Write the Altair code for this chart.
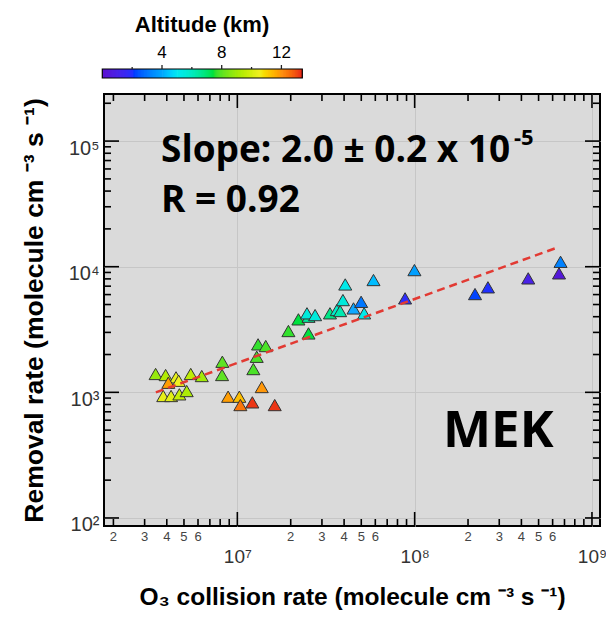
import altair as alt
import numpy as np
import pandas as pd

# ---------------- data ----------------
o3_rate = [3.46e6, 3.94e6, 4.51e6, 4.08e6, 4.67e6, 5.46e6, 6.30e6, 3.82e6, 4.23e6, 4.71e6,
           5.18e6, 8.23e6, 8.20e6, 8.87e6, 1.026e7, 1.04e7, 1.215e7, 1.373e7, 1.625e7, 1.231e7,
           1.286e7, 1.309e7, 1.446e7, 1.941e7, 2.21e7, 2.52e7, 2.52e7, 2.47e7, 2.745e7, 3.33e7,
           3.64e7, 3.80e7, 3.94e7, 4.06e7, 4.52e7, 4.99e7, 5.19e7, 5.86e7, 8.83e7, 9.97e7,
           2.19e8, 2.59e8, 4.37e8, 6.52e8, 6.65e8]
removal = [1400, 1373, 1316, 1192, 1237, 1400, 1348, 935, 935, 964,
           1024, 1752, 1374, 923, 923, 792, 832, 1102, 792, 1532,
           1919, 2409, 2336, 3077, 3810, 2944, 3998, 4256, 4120, 4256,
           4520, 4437, 5424, 7224, 4657, 5255, 4256, 7834, 5598, 9398,
           6056, 6854, 8074, 8855, 10940]
altitude = [8.8, 9.3, 10.3, 11.8, 10.5, 9.5, 9.0, 10.3, 10.2, 9.6,
            9.2, 8.0, 8.0, 11.8, 11.3, 12.4, 13.2, 11.9, 13.2, 7.8,
            7.8, 7.6, 7.8, 7.6, 7.4, 7.4, 6.5, 5.5, 5.5, 6.7,
            5.8, 6.2, 5.5, 5.2, 4.0, 3.0, 5.2, 4.3, 1.8, 3.8,
            2.2, 2.0, 1.0, 0.4, 3.2]

fit_x = [3.47e6, 6.55e8]
fit_y = [1000, 14400]

x_major = [1e7, 1e8, 1e9]
x_minor = [m * 10 ** e for e in (6, 7, 8) for m in range(2, 10)]
x_minor_lab_val = [m * 10 ** e for e in (6, 7, 8) for m in (2, 3, 4, 5, 6)]
x_minor_lab_txt = [str(m) for e in (6, 7, 8) for m in (2, 3, 4, 5, 6)]
y_major = [1e2, 1e3, 1e4, 1e5]
y_minor = [m * 10 ** e for e in (2, 3, 4) for m in range(2, 10)] + [2e5]

cb_major = [4, 8, 12]
cb_minor = [2, 6, 10]
cb_extent = [0, 13.4]
cmap_domain = [0, 2, 4, 5, 7.5, 10.5, 12, 13.4]
cmap_range = ["#5a10d0", "#2030ff", "#10a8ff", "#10e8f0", "#20e030", "#f0f020", "#ff9010", "#e81818"]

# ---------------- layout ----------------
W, H = 496, 432
FONT = "Liberation Sans"
SUP = "['⁰','¹','²','³','⁴','⁵','⁶','⁷','⁸','⁹'][round(log(datum.value)/LN10)]"

xscale = alt.Scale(type="log", domain=[1.77e6, 1.11e9], nice=False)
yscale = alt.Scale(type="log", domain=[86.3, 2.37e5], nice=False)
fillscale = alt.Scale(domain=cmap_domain, range=cmap_range)
cbscale = alt.Scale(domain=cb_extent, range=[-1.7, 198.3], nice=False, zero=False)

df = pd.DataFrame({"o3": o3_rate, "rem": removal, "alt": altitude})

points = alt.Chart(df).mark_point(
    shape="triangle-up", filled=True, size=170, stroke="#333333", strokeWidth=1, opacity=1
).encode(
    x=alt.X("o3:Q", scale=xscale,
            axis=alt.Axis(values=x_major, grid=True, ticks=False, domain=False,
                          labelExpr="'10' + " + SUP, labelFont=FONT, labelFontSize=19,
                          labelColor="#333333", labelPadding=21,
                          title="O₃ collision rate (molecule cm ⁻³ s ⁻¹)",
                          titleFont=FONT, titleFontSize=24.5, titleFontWeight="bold",
                          titleColor="black", titlePadding=19)),
    y=alt.Y("rem:Q", scale=yscale,
            axis=alt.Axis(values=y_major, grid=True, ticks=False, domain=False,
                          labelExpr="'10' + " + SUP, labelFont=FONT, labelFontSize=20,
                          labelColor="#333333", labelPadding=5, labelOffset=7,
                          title="Removal rate (molecule cm ⁻³ s ⁻¹)",
                          titleFont=FONT, titleFontSize=26.5, titleFontWeight="bold",
                          titleColor="black", titlePadding=20)),
    fill=alt.Fill("alt:Q", scale=fillscale, legend=None),
)

fit = alt.Chart(pd.DataFrame({"x": fit_x, "y": fit_y})).mark_line(
    color="#e23a33", strokeDash=[8, 5], strokeWidth=2.5
).encode(x=alt.X("x:Q", scale=xscale, axis=None), y=alt.Y("y:Q", scale=yscale, axis=None))


def xticks(vals, length, top):
    d = pd.DataFrame({"v": vals})
    y0, y1 = (0, length) if top else (H, H - length)
    return alt.Chart(d).mark_rule(color="black", strokeWidth=1.6).encode(
        x=alt.X("v:Q", scale=xscale, axis=None), y=alt.value(y0), y2=alt.value(y1))


def yticks(vals, length, right):
    d = pd.DataFrame({"v": vals})
    x0, x1 = (W, W - length) if right else (0, length)
    return alt.Chart(d).mark_rule(color="black", strokeWidth=1.6).encode(
        y=alt.Y("v:Q", scale=yscale, axis=None), x=alt.value(x0), x2=alt.value(x1))


ticks = [xticks(x_major, 14, False), xticks(x_minor, 7, False),
         xticks(x_major, 14, True), xticks(x_minor, 7, True),
         yticks(y_major, 15, False), yticks(y_minor, 7, False),
         yticks(y_major, 15, True), yticks(y_minor, 7, True)]

minor_labels = alt.Chart(pd.DataFrame({"v": x_minor_lab_val, "t": x_minor_lab_txt})).mark_text(
    font=FONT, fontSize=13, color="#444444", baseline="middle", align="center"
).encode(x=alt.X("v:Q", scale=xscale, axis=None), y=alt.value(H + 11), text="t:N")

# ---------------- colour bar (altitude) ----------------
CB_TOP, CB_BOT = -25, -16
cb_vals = np.arange(cb_extent[0], cb_extent[1], 0.05)
cb_df = pd.DataFrame({"v": cb_vals, "v2": np.minimum(cb_vals + 0.1, cb_extent[1])})
cb_rect = alt.Chart(cb_df).mark_rect(strokeWidth=0).encode(
    x=alt.X("v:Q", scale=cbscale, axis=None), x2="v2:Q",
    y=alt.value(CB_TOP), y2=alt.value(CB_BOT),
    fill=alt.Fill("v:Q", scale=fillscale, legend=None))
cb_frame = alt.Chart(pd.DataFrame({"a": [cb_extent[0]], "b": [cb_extent[1]]})).mark_rect(
    fillOpacity=0, stroke="black", strokeWidth=1.2).encode(
    x=alt.X("a:Q", scale=cbscale, axis=None), x2="b:Q",
    y=alt.value(CB_TOP), y2=alt.value(CB_BOT))
cb_tick_major = alt.Chart(pd.DataFrame({"v": cb_major})).mark_rule(color="#222", strokeWidth=1.3).encode(
    x=alt.X("v:Q", scale=cbscale, axis=None), y=alt.value(CB_TOP - 4), y2=alt.value(CB_TOP))
cb_tick_minor = alt.Chart(pd.DataFrame({"v": cb_minor})).mark_rule(color="#222", strokeWidth=1.3).encode(
    x=alt.X("v:Q", scale=cbscale, axis=None), y=alt.value(CB_TOP - 2), y2=alt.value(CB_TOP))
cb_labels = alt.Chart(pd.DataFrame({"v": cb_major, "t": [str(v) for v in cb_major]})).mark_text(
    font=FONT, fontSize=17, color="black", baseline="middle", align="center").encode(
    x=alt.X("v:Q", scale=cbscale, axis=None), y=alt.value(-41), text="t:N")

one = alt.Data(values=[{"a": 1}])
cb_title = alt.Chart(one).mark_text(text="Altitude (km)", font=FONT, fontSize=22, fontWeight="bold",
                                    align="center", baseline="middle", color="black").encode(
    x=alt.value(98), y=alt.value(-69))

# ---------------- annotations ----------------
ann_font = "Open Sans"
slope = alt.Chart(one).mark_text(text="Slope: 2.0 ± 0.2 x 10", font=ann_font, fontSize=37,
                                 fontWeight="bold", align="left", baseline="alphabetic",
                                 color="black").encode(x=alt.value(57), y=alt.value(68))
sup5 = alt.Chart(one).mark_text(text="-5", font=ann_font, fontSize=22, fontWeight="bold",
                                align="left", baseline="alphabetic",
                                color="black").encode(x=alt.value(410), y=alt.value(51))
rtext = alt.Chart(one).mark_text(text="R = 0.92", font=ann_font, fontSize=37, fontWeight="bold",
                                 align="left", baseline="alphabetic",
                                 color="black").encode(x=alt.value(57), y=alt.value(118))
mek = alt.Chart(one).mark_text(text="MEK", font=ann_font, fontSize=51, fontWeight="bold",
                               align="left", baseline="alphabetic",
                               color="black").encode(x=alt.value(339), y=alt.value(353))

chart = alt.layer(
    points, *ticks, minor_labels, fit,
    cb_rect, cb_frame, cb_tick_major, cb_tick_minor, cb_labels, cb_title,
    slope, sup5, rtext, mek
).resolve_scale(x="independent").resolve_axis(y="independent").properties(
    width=W, height=H,
    padding={"left": 104, "top": 94, "right": 6, "bottom": 93},
    autosize=alt.AutoSizeParams(type="none"),
).configure_view(
    fill="#dadada", stroke="black", strokeWidth=2
).configure_axis(
    gridColor="#c6c6c6", gridWidth=1
)

chart.save("out.html", embed_options={"renderer": "svg", "actions": False})
